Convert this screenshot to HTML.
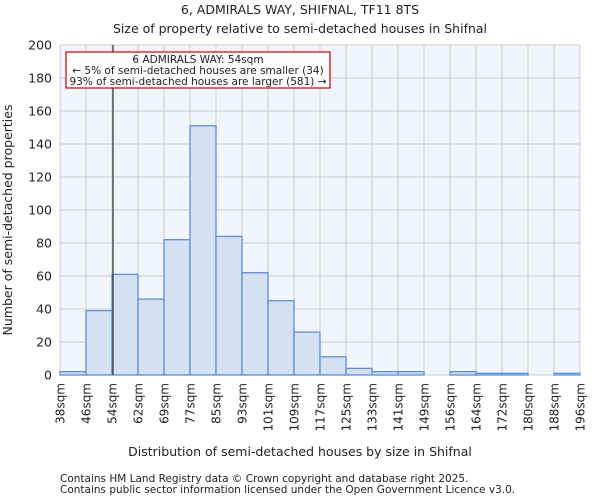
<!DOCTYPE html>
<html><head><meta charset="utf-8"><style>
body{margin:0;background:#fff;font-family:"DejaVu Sans","Liberation Sans",sans-serif;}
svg text{font-family:"DejaVu Sans","Liberation Sans",sans-serif;fill:#222;}
</style></head><body>
<svg id="chart" width="600" height="500">
<text x="300" y="14" text-anchor="middle" font-size="12.5">6, ADMIRALS WAY, SHIFNAL, TF11 8TS</text>
<text x="300" y="33" text-anchor="middle" font-size="12.5">Size of property relative to semi-detached houses in Shifnal</text>
<rect x="60" y="45" width="520" height="330" fill="#f3f5fd"/>
<g id="grid"></g><g id="bars"></g><g id="axes"></g>
<text x="300" y="456" text-anchor="middle" font-size="12.5">Distribution of semi-detached houses by size in Shifnal</text>
<text transform="translate(12,220) rotate(-90)" text-anchor="middle" font-size="12.5">Number of semi-detached properties</text>
<text x="60" y="482" font-size="10.5" fill="#444">Contains HM Land Registry data © Crown copyright and database right 2025.</text>
<text x="60" y="493" font-size="10.5" fill="#444">Contains public sector information licensed under the Open Government Licence v3.0.</text>
<line x1="113" y1="45" x2="113" y2="375" stroke="#333" stroke-width="1.2"/>
<rect x="66" y="52" width="264" height="36" fill="#fff" stroke="#c00" stroke-width="1.2"/>
<text x="198" y="63" text-anchor="middle" font-size="10.5">6 ADMIRALS WAY: 54sqm</text>
<text x="198" y="74" text-anchor="middle" font-size="10.5">← 5% of semi-detached houses are smaller (34)</text>
<text x="198" y="85" text-anchor="middle" font-size="10.5">93% of semi-detached houses are larger (581) →</text>
</svg>
<script>
const edgeLabels=["38sqm","46sqm","54sqm","62sqm","69sqm","77sqm","85sqm","93sqm","101sqm","109sqm","117sqm","125sqm","133sqm","141sqm","149sqm","156sqm","164sqm","172sqm","180sqm","188sqm","196sqm"];
const counts=[2,39,61,46,82,151,84,62,45,26,11,4,2,2,0,2,1,1,0,1];
const yTicks=[0,20,40,60,80,100,120,140,160,180,200];
const NS="http://www.w3.org/2000/svg";
const x0=60,x1=580,y0=375,y1=45,yMax=200;
const bw=(x1-x0)/counts.length;
const xs=i=>x0+i*bw;
const ys=v=>y0-(v/yMax)*(y0-y1);
function mk(t,a,p){const e=document.createElementNS(NS,t);for(const k in a)e.setAttribute(k,a[k]);p.appendChild(e);return e;}
const grid=document.getElementById('grid'),bars=document.getElementById('bars'),axes=document.getElementById('axes');
yTicks.forEach(v=>{
 const l=mk('line',{x1:x0,x2:x1,y1:ys(v),y2:ys(v),stroke:'#cccccc'},grid);
 
 
 const t=mk('text',{x:x0-8,y:ys(v)+4.5,'text-anchor':'end','font-size':12.5},axes);
 t.textContent=v;
 
 
});
edgeLabels.forEach((s,i)=>{
 const l=mk('line',{x1:xs(i),x2:xs(i),y1:y1,y2:y0,stroke:'#cccccc'},grid);
 
 
 const t=mk('text',{transform:`translate(${xs(i)+4.5},${y0+8}) rotate(-90)`,'text-anchor':'end','font-size':12},axes);
 t.textContent=s;
 
 
});
counts.forEach((v,i)=>{
 if(v<=0)return;
 const r=mk('rect',{x:xs(i),y:ys(v),width:bw,height:y0-ys(v),fill:'#d6e0f3',stroke:'#5b8fd6','stroke-width':1.3},bars);
 
 
});
</script>
</body></html>
